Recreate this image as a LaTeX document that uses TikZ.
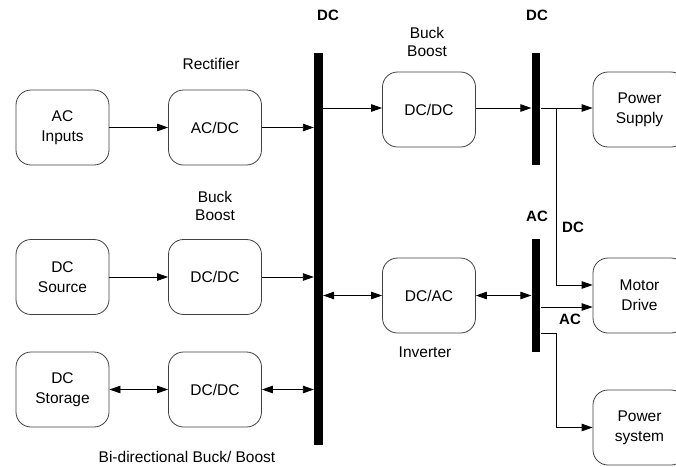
\documentclass[tikz,border=0pt]{standalone}
\usepackage{fontspec}
\setmainfont{Liberation Sans}
\usetikzlibrary{arrows.meta,calc}
\begin{document}
\begin{tikzpicture}[x=1pt,y=-1pt,
  box/.style={draw=black!75,line width=0.8pt,rounded corners=15pt,minimum width=93pt,minimum height=75pt,
    align=center,inner sep=0pt,font=\fontsize{15.5}{20}\selectfont},
  bus/.style={fill=black,draw=none,minimum width=8.5pt,inner sep=0pt},
  lbl/.style={align=center,inner sep=0pt,font=\fontsize{15.5}{18.5}\selectfont},
  blbl/.style={inner sep=0pt,font=\bfseries\fontsize{15}{17}\selectfont},
  tip/.style={-{Triangle[length=11pt,width=7.5pt]}},
  btip/.style={{Triangle[length=11pt,width=7.5pt]}-{Triangle[length=11pt,width=7.5pt]}},
  line width=0.8pt]
\useasboundingbox (0,0) rectangle (676,466);

% converter and load boxes
\node[box] (acin)  at (62.5,127.5) {AC\\Inputs};
\node[box] (acdc)  at (215,127.5) {AC/DC};
\node[box] (dcsrc) at (62.5,277) {DC\\Source};
\node[box] (dcdca) at (215,277) {DC/DC};
\node[box] (dcsto) at (62.5,389.5) {DC\\Storage};
\node[box] (dcdcb) at (215,389.5) {DC/DC};
\node[box] (dcdcc) at (429,109.5) {DC/DC};
\node[box] (dcac)  at (429,295.5) {DC/AC};
\node[box] (psup)  at (639.5,109.5) {Power\\Supply};
\node[box] (motor) at (639.5,295.5) {Motor\\Drive};
\node[box] (psys)  at (639.5,427.5) {Power\\system};

% bus bars
\node[bus,minimum height=392pt] (busa) at (318.5,249) {};
\node[bus,minimum height=112pt] (busb) at (536,109) {};
\node[bus,minimum height=113pt] (busc) at (536,295.5) {};

% labels
\node[blbl] (ldca) at (328,15) {DC};
\node[blbl] (ldcb) at (537,15) {DC};
\node[lbl] (lrect) at (211,64) {Rectifier};
\node[lbl] (lbba) at (215,206) {Buck\\Boost};
\node[lbl] (lbbb) at (427,42) {Buck\\Boost};
\node[blbl] (lac) at (537,216) {AC};
\node[blbl] (ldcc) at (573,227) {DC};
\node[blbl] (lacb) at (570,319) {AC};
\node[lbl] (linv) at (425,352) {Inverter};
\node[lbl] (lbi) at (187,457) {Bi-directional Buck/ Boost};

% junction points on the right-hand feeders
\coordinate (ja) at (556,108);
\coordinate (jb) at (556,285);
\coordinate (jc) at (556,333);
\coordinate (jd) at (556,427.5);

% connectors
\draw[tip] (acin.east) -- (acdc.west);
\draw[tip] (acdc.east) -- (acdc.east -| busa.west);
\draw[tip] (dcsrc.east) -- (dcdca.west);
\draw[tip] (dcdca.east) -- (dcdca.east -| busa.west);
\draw[btip] (dcsto.east) -- (dcdcb.west);
\draw[btip] (dcdcb.east) -- (dcdcb.east -| busa.west);
\draw[tip] (busa.east |- ja) -- (dcdcc.west |- ja);
\draw[tip] (dcdcc.east |- ja) -- (busb.west |- ja);
\draw[tip] (busb.east |- ja) -- (psup.west |- ja);
\draw[tip] (ja) -- (jb) -- (motor.west |- jb);
\draw[btip] (busa.east |- dcac.west) -- (dcac.west);
\draw[btip] (dcac.east) -- (busc.west |- dcac.east);
\draw[tip] ($(busc.east)+(0,11.5)$) -- ($(motor.west)+(0,11.5)$);
\draw[tip] (busc.east |- jc) -- (jc) -- (jd) -- (psys.west);
\end{tikzpicture}
\end{document}
